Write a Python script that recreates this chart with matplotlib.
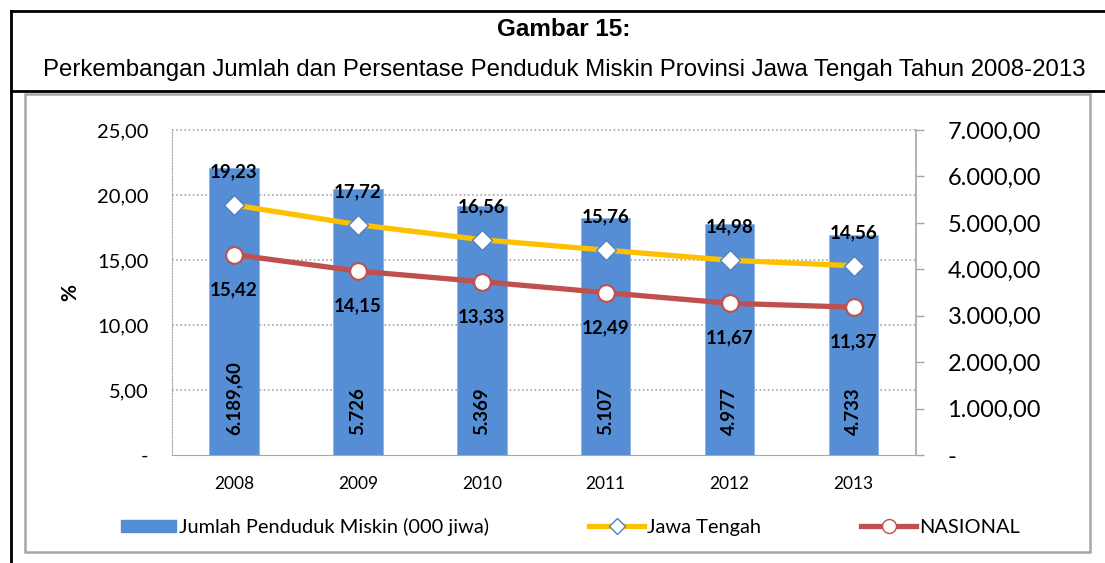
import matplotlib.pyplot as plt
from matplotlib.patches import Rectangle, Patch
from matplotlib.lines import Line2D
from matplotlib.ticker import FuncFormatter, MultipleLocator
import matplotlib.transforms as mtransforms

plt.rcParams['font.family'] = ['Lato', 'DejaVu Sans']

years = ['2008', '2009', '2010', '2011', '2012', '2013']
jumlah_miskin = [6189.60, 5726, 5369, 5107, 4977, 4733]
jumlah_labels = ['6.189,60', '5.726', '5.369', '5.107', '4.977', '4.733']
jawa_tengah = [19.23, 17.72, 16.56, 15.76, 14.98, 14.56]
nasional = [15.42, 14.15, 13.33, 12.49, 11.67, 11.37]

def fmt_id(v, dec=2):
    if abs(v) < 1e-9:
        return '-'
    s = f'{v:,.{dec}f}'
    return s.replace(',', 'X').replace('.', ',').replace('X', '.')

fig = plt.figure(figsize=(11.05, 5.63), dpi=100)
W, H = 1105, 563

# frame around title and chart
fig.add_artist(Line2D([11 / W, 11 / W], [0, 1 - 11 / H], color='black', lw=2))
fig.add_artist(Line2D([11 / W, 1], [1 - 11 / H, 1 - 11 / H], color='black', lw=2))
fig.add_artist(Line2D([11 / W, 1], [1 - 91 / H, 1 - 91 / H], color='black', lw=2))
fig.add_artist(Rectangle((25 / W, 1 - 552 / H), (1090 - 25) / W, (552 - 94) / H,
                         fill=False, edgecolor='#A6A6A6', lw=1.8))

title_font = ['Liberation Sans', 'DejaVu Sans']
t1 = fig.text(564 / W, 1 - 30 / H, 'Gambar 15:', ha='center', va='center',
              fontsize=17.5, fontweight='bold', family=title_font)
t2 = fig.text(564 / W, 1 - 70 / H,
              'Perkembangan Jumlah dan Persentase Penduduk Miskin Provinsi Jawa Tengah Tahun 2008-2013',
              ha='center', va='center', fontsize=15, family=title_font)
# shrink the subtitle so it spans the same width as in the original
rend = fig.canvas.get_renderer()
w2 = t2.get_window_extent(rend).width
t2.set_fontsize(15 * 1050 / w2)

# bars on the lower axes (right scale), lines on the twin (left scale)
ax_bar = fig.add_axes([172 / W, 1 - 455 / H, (915.5 - 172) / W, (455 - 130) / H])
ax_ln = ax_bar.twinx()

x = list(range(len(years)))
ax_bar.bar(x, jumlah_miskin, width=0.4, color='#558ED5', edgecolor='#8DB3E2', lw=0.6, zorder=2)
ax_bar.set_ylim(0, 7000)
ax_bar.set_xlim(-0.5, len(years) - 0.5)
ax_bar.yaxis.tick_right()
ax_bar.yaxis.set_label_position('right')
ax_bar.yaxis.set_major_locator(MultipleLocator(1000))
ax_bar.yaxis.set_major_formatter(FuncFormatter(lambda v, p: fmt_id(v)))
ax_bar.tick_params(axis='y', right=True, left=False, length=6, width=1, color='#A6A6A6',
                   labelsize=17, pad=17)
for lab in ax_bar.get_yticklabels():
    lab.set_horizontalalignment('left')
ax_bar.set_xticks(x)
ax_bar.set_xticklabels(years)
ax_bar.tick_params(axis='x', length=0, labelsize=12.5, pad=15)

ax_bar.spines['top'].set_visible(False)
ax_bar.spines['bottom'].set_color('#A6A6A6')
ax_bar.spines['right'].set_color('#A6A6A6')
ax_bar.spines['right'].set_linewidth(1.2)
ax_bar.spines['left'].set_color('#A6A6A6')
ax_bar.spines['left'].set_linestyle((0, (1, 1.5)))

for xi, v, lab in zip(x, jumlah_miskin, jumlah_labels):
    ax_bar.text(xi, 430, lab, rotation=90, ha='center', va='bottom',
                fontsize=13.5, fontweight='bold', zorder=3)

ax_ln.set_ylim(0, 25)
ax_ln.yaxis.tick_left()
ax_ln.yaxis.set_label_position('left')
ax_ln.yaxis.set_major_locator(MultipleLocator(5))
ax_ln.yaxis.set_major_formatter(FuncFormatter(lambda v, p: fmt_id(v)))
ax_ln.tick_params(axis='y', left=True, right=False, length=0, labelsize=14.5, pad=17)
ax_ln.set_ylabel('%', fontsize=15, fontweight='bold', labelpad=12)
for s in ax_ln.spines.values():
    s.set_visible(False)

# dotted gridlines behind the bars, at the left-axis ticks
grid_tf = mtransforms.blended_transform_factory(ax_bar.transAxes, ax_ln.transData)
for t in ax_ln.get_yticks():
    if 0 < t <= 25:
        ax_bar.plot([0, 1], [t, t], transform=grid_tf, color='#A6A6A6', lw=1.2,
                    ls=(0, (1, 1.5)), zorder=1, clip_on=False)

ax_ln.plot(x, jawa_tengah, color='#FFC000', lw=3.8, marker='D', ms=10,
           mfc='white', mec='#4F81BD', mew=1, zorder=4)
ax_ln.plot(x, nasional, color='#C0504D', lw=3.8, marker='o', ms=12,
           mfc='white', mec='#C0504D', mew=1.5, zorder=4)

for xi, v in zip(x, jawa_tengah):
    ax_ln.annotate(fmt_id(v), (xi, v), xytext=(0, 24), textcoords='offset points',
                   ha='center', va='center', fontsize=13.5, fontweight='bold')
for xi, v in zip(x, nasional):
    ax_ln.annotate(fmt_id(v), (xi, v), xytext=(0, -25), textcoords='offset points',
                   ha='center', va='center', fontsize=13.5, fontweight='bold')

handles = [
    Patch(facecolor='#558ED5', edgecolor='#558ED5'),
    Line2D([], [], color='#FFC000', lw=3.8, marker='D', ms=8, mfc='white', mec='#4F81BD'),
    Line2D([], [], color='#C0504D', lw=3.8, marker='o', ms=10, mfc='white', mec='#C0504D'),
]
labels = ['Jumlah Penduduk Miskin (000 jiwa)', 'Jawa Tengah', 'NASIONAL']
fig.legend(handles, labels, loc='center left', bbox_to_anchor=(121 / W, 1 - 527 / H),
           ncol=3, frameon=False, fontsize=14.4, handlelength=2.75, handleheight=0.55,
           handletextpad=0.15, columnspacing=5.0, borderaxespad=0, borderpad=0)

fig.savefig('out.png', dpi=100)
